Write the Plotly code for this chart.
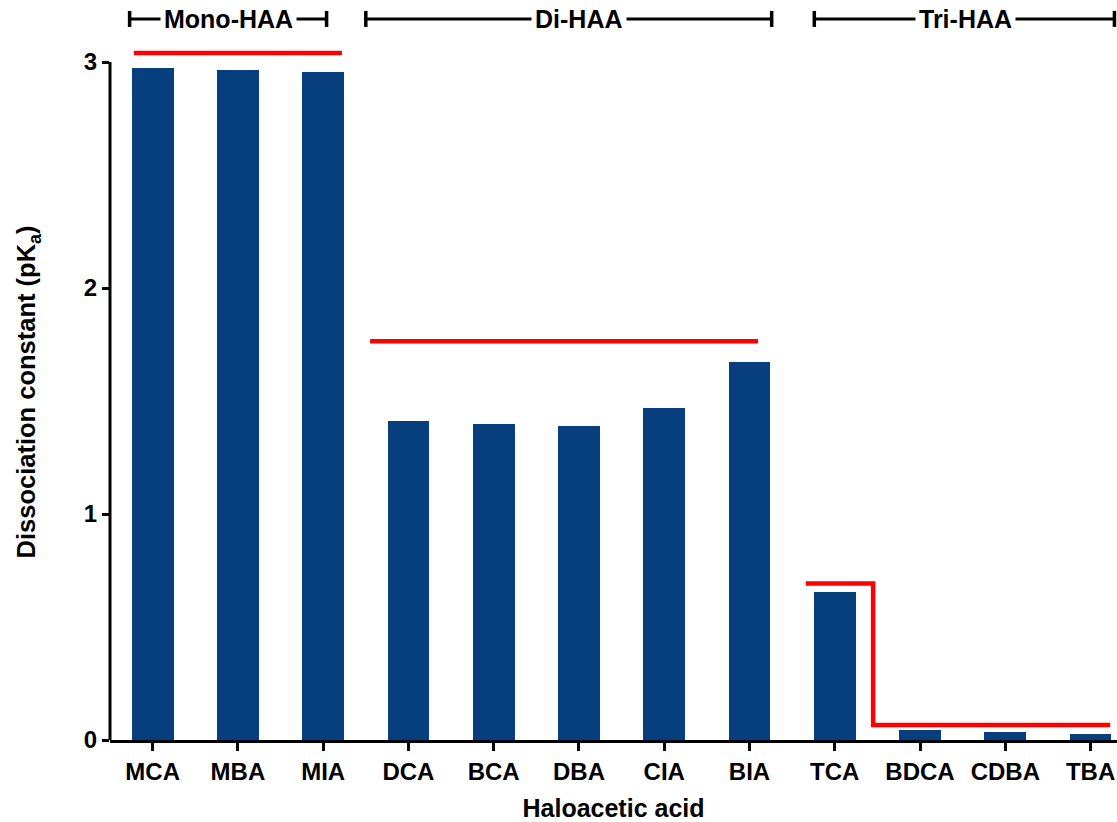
import plotly.graph_objects as go

# ---- data ----
categories = ["MCA", "MBA", "MIA", "DCA", "BCA", "DBA", "CIA", "BIA",
              "TCA", "BDCA", "CDBA", "TBA"]
pka_values = [2.975, 2.966, 2.956, 1.410, 1.400, 1.391, 1.470, 1.671,
              0.656, 0.044, 0.034, 0.025]
y_ticks = [0, 1, 2, 3]

group_names = ["Mono-HAA", "Di-HAA", "Tri-HAA"]
group_start = [-0.27, 2.50, 7.76]
group_end = [2.04, 7.26, 11.28]
group_label_x = [0.89, 5.0, 9.53]

# red reference levels
mono_ref_x = [-0.22, 2.22]
mono_ref_y = [3.04, 3.04]
di_ref_x = [2.55, 7.10]
di_ref_y = [1.765, 1.765]
tri_ref_x = [7.66, 8.45, 8.45, 11.23]
tri_ref_y = [0.693, 0.693, 0.066, 0.066]

FONT = "Liberation Sans, Arial, sans-serif"
BAR_COLOR = "#073f7e"
RED = "#ff0000"

x_idx = list(range(len(categories)))

fig = go.Figure()
fig.add_trace(go.Bar(x=x_idx, y=pka_values, width=0.49,
                     marker=dict(color=BAR_COLOR, line=dict(width=0)),
                     showlegend=False))

for xs, ys in [(mono_ref_x, mono_ref_y), (di_ref_x, di_ref_y), (tri_ref_x, tri_ref_y)]:
    fig.add_trace(go.Scatter(x=xs, y=ys, mode="lines",
                             line=dict(color=RED, width=4.5),
                             showlegend=False, hoverinfo="skip"))

shapes = []
# y axis line only spanning 0..3
shapes.append(dict(type="line", xref="paper", yref="y", x0=0, x1=0,
                   y0=0, y1=max(y_ticks), line=dict(color="black", width=3)))

BR_Y = 1.036
CAP = 0.0115
annotations = []
for name, s, e, lx in zip(group_names, group_start, group_end, group_label_x):
    shapes.append(dict(type="line", xref="x", yref="paper", x0=s, x1=e,
                       y0=BR_Y, y1=BR_Y, line=dict(color="black", width=3)))
    for xc in (s, e):
        shapes.append(dict(type="line", xref="x", yref="paper", x0=xc, x1=xc,
                           y0=BR_Y - CAP, y1=BR_Y + CAP,
                           line=dict(color="black", width=3.5)))
    annotations.append(dict(x=lx, y=BR_Y, xref="x", yref="paper", text=name,
                            showarrow=False, bgcolor="white", borderpad=3,
                            xanchor="center", yanchor="middle",
                            font=dict(family=FONT, size=25, color="black",
                                      weight="bold")))

fig.update_layout(
    template="none",
    width=1117, height=822,
    margin=dict(l=110, r=0, t=44, b=82),
    paper_bgcolor="white", plot_bgcolor="white",
    shapes=shapes, annotations=annotations,
    bargap=0,
    xaxis=dict(
        range=[-0.5, 11.31], automargin=False,
        tickmode="array", tickvals=x_idx, ticktext=categories,
        showline=True, linecolor="black", linewidth=3,
        ticks="outside", ticklen=8, tickwidth=3, tickcolor="black",
        showgrid=False, zeroline=False,
        tickfont=dict(family=FONT, size=24, color="black", weight="bold"),
        title=dict(text="Haloacetic acid", standoff=22,
                   font=dict(family=FONT, size=25, color="black", weight="bold")),
    ),
    yaxis=dict(
        range=[0, 3.08], automargin=False,
        tickmode="array", tickvals=y_ticks,
        showline=False,
        ticks="outside", ticklen=7, tickwidth=3, tickcolor="black",
        showgrid=False, zeroline=False,
        tickfont=dict(family=FONT, size=24, color="black", weight="bold"),
        title=dict(text="Dissociation constant (pK<sub>a</sub>)", standoff=40,
                   font=dict(family=FONT, size=25.5, color="black", weight="bold")),
    ),
)

fig.write_html(
    "out.html",
    config={"displayModeBar": False},
    post_script="document.body.style.margin='0';document.body.style.overflow='hidden';",
)
